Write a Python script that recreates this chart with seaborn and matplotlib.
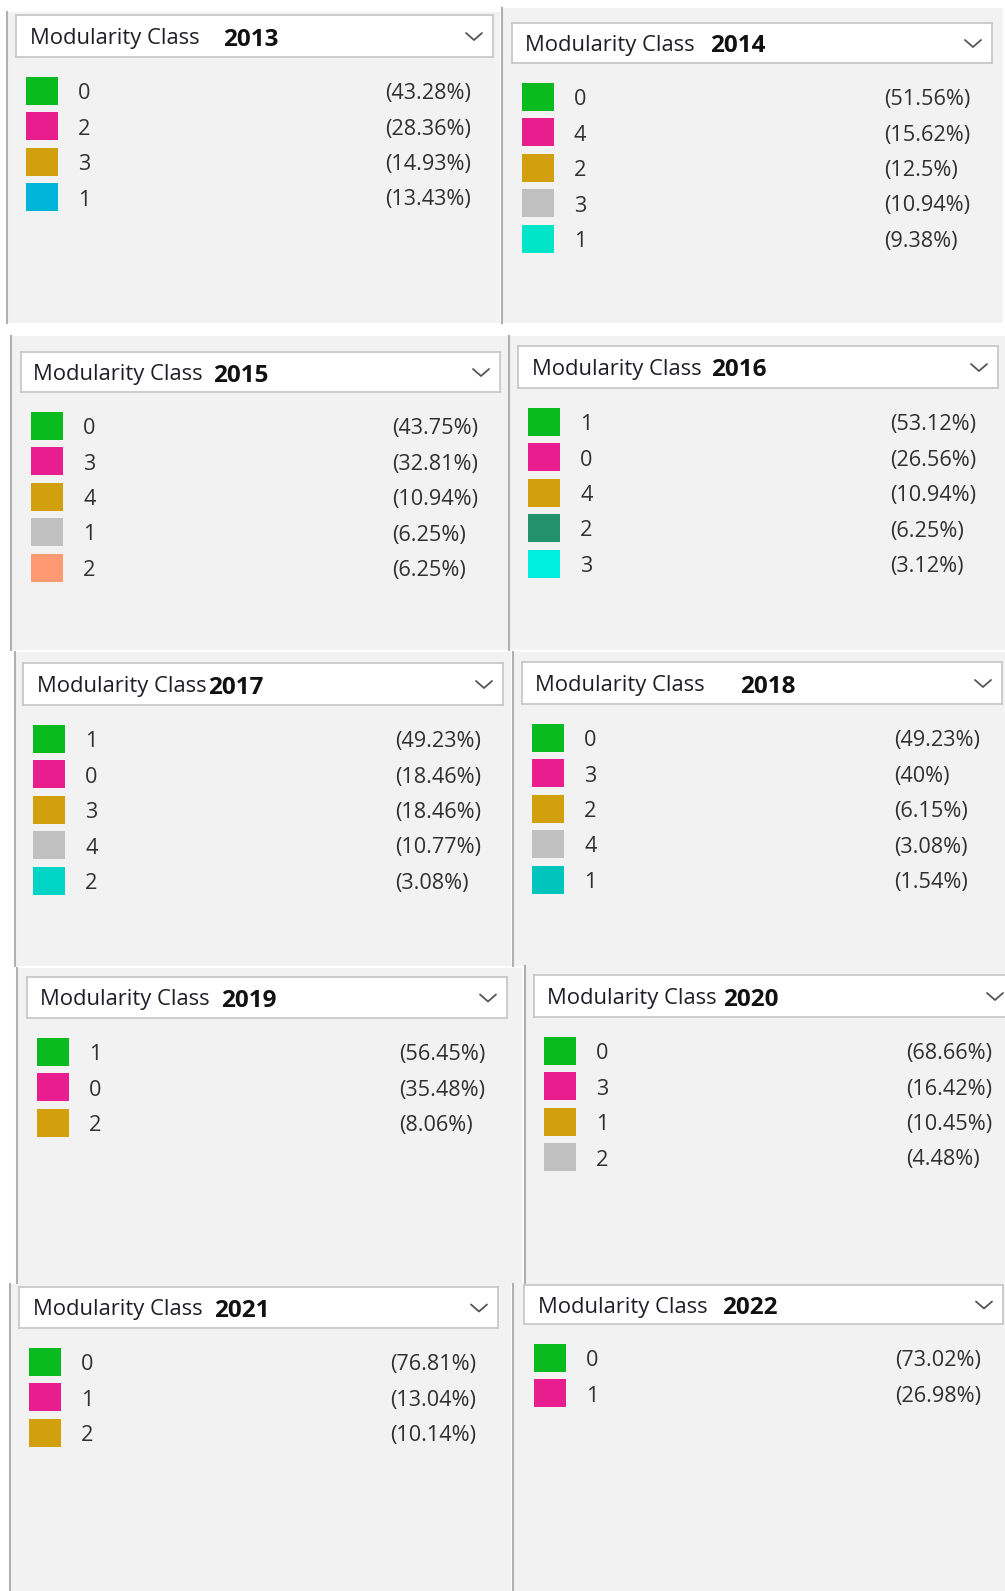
import pandas as pd
import numpy as np
import matplotlib.pyplot as plt
import seaborn as sns
from matplotlib.path import Path

# Modularity class shares per year (Gephi partition panels)

GREEN = "#09bb1f"
PINK = "#e91e8e"
GOLD = "#d2a00c"
GRAY = "#c0c0c0"

years = [2013, 2014, 2015, 2016, 2017, 2018, 2019, 2020, 2021, 2022]

classes_2013 = ["0", "2", "3", "1"]
pct_2013 = [43.28, 28.36, 14.93, 13.43]
colors_2013 = [GREEN, PINK, GOLD, "#00b5d9"]

classes_2014 = ["0", "4", "2", "3", "1"]
pct_2014 = [51.56, 15.62, 12.5, 10.94, 9.38]
colors_2014 = [GREEN, PINK, GOLD, GRAY, "#00e5c8"]

classes_2015 = ["0", "3", "4", "1", "2"]
pct_2015 = [43.75, 32.81, 10.94, 6.25, 6.25]
colors_2015 = [GREEN, PINK, GOLD, GRAY, "#fd9a73"]

classes_2016 = ["1", "0", "4", "2", "3"]
pct_2016 = [53.12, 26.56, 10.94, 6.25, 3.12]
colors_2016 = [GREEN, PINK, GOLD, "#23926c", "#00eee0"]

classes_2017 = ["1", "0", "3", "4", "2"]
pct_2017 = [49.23, 18.46, 18.46, 10.77, 3.08]
colors_2017 = [GREEN, PINK, GOLD, GRAY, "#00d4c4"]

classes_2018 = ["0", "3", "2", "4", "1"]
pct_2018 = [49.23, 40, 6.15, 3.08, 1.54]
colors_2018 = [GREEN, PINK, GOLD, GRAY, "#00c5bd"]

classes_2019 = ["1", "0", "2"]
pct_2019 = [56.45, 35.48, 8.06]
colors_2019 = [GREEN, PINK, GOLD]

classes_2020 = ["0", "3", "1", "2"]
pct_2020 = [68.66, 16.42, 10.45, 4.48]
colors_2020 = [GREEN, PINK, GOLD, GRAY]

classes_2021 = ["0", "1", "2"]
pct_2021 = [76.81, 13.04, 10.14]
colors_2021 = [GREEN, PINK, GOLD]

classes_2022 = ["0", "1"]
pct_2022 = [73.02, 26.98]
colors_2022 = [GREEN, PINK]

all_classes = [classes_2013, classes_2014, classes_2015, classes_2016, classes_2017,
               classes_2018, classes_2019, classes_2020, classes_2021, classes_2022]
all_pcts = [pct_2013, pct_2014, pct_2015, pct_2016, pct_2017,
            pct_2018, pct_2019, pct_2020, pct_2021, pct_2022]
all_colors = [colors_2013, colors_2014, colors_2015, colors_2016, colors_2017,
              colors_2018, colors_2019, colors_2020, colors_2021, colors_2022]

# panel layout in pixels: background box, header box, title x, year x
layout = [
    ((7, 12, 500, 323), (16, 15, 493, 57), 30, 223),
    ((502, 8, 1003, 323), (512, 23, 992, 63), 525, 710),
    ((11, 336, 508, 650), (21, 352, 500, 392), 33, 213),
    ((509, 336, 1005, 650), (518, 346, 998, 388), 532, 711),
    ((15, 652, 511, 966), (23, 663, 503, 705), 37, 208),
    ((513, 652, 1005, 966), (522, 662, 1002, 704), 535, 740),
    ((17, 968, 522, 1284), (27, 977, 507, 1018), 40, 221),
    ((525, 966, 1005, 1284), (534, 975, 1014, 1017), 547, 723),
    ((10, 1284, 511, 1591), (19, 1287, 498, 1328), 33, 214),
    ((513, 1284, 1005, 1591), (524, 1285, 1003, 1324), 538, 722),
]

W, H = 1005, 1591
STEP = 35.4
PANEL = "#f2f2f2"

sns.set_style("white")
plt.rcParams["font.family"] = ["Open Sans", "DejaVu Sans"]

swatch = Path([(-1, -0.875), (1, -0.875), (1, 0.875), (-1, 0.875), (-1, -0.875)])

fig = plt.figure(figsize=(W / 100, H / 100), dpi=100)
fig.patch.set_facecolor("white")


def draw_panel(year, classes, pcts, colors, lay):
    (bx0, by0, bx1, by1), (hx0, hy0, hx1, hy1), tx, yx = lay

    ax = fig.add_axes([bx0 / W, 1 - by1 / H, (bx1 - bx0) / W, (by1 - by0) / H])
    ax.set_facecolor(PANEL)
    row0 = hy1 + 34

    df = pd.DataFrame({
        "rank": np.arange(len(classes)),
        "cls": classes,
        "pct": pcts,
    })
    df["x"] = hx0 + 26

    sns.scatterplot(
        data=df, x="x", y="rank",
        hue="cls", palette=dict(zip(classes, colors)),
        marker=swatch, s=531, linewidth=0,
        legend=False, ax=ax
    )

    ax.set_xlim(bx0, bx1)
    ax.set_ylim((by1 - row0) / STEP, (by0 - row0) / STEP)
    ax.set(xlabel="", ylabel="", xticks=[], yticks=[])

    off = 8.3 / STEP
    for r in df.itertuples():
        ax.text(hx0 + 62, r.rank + off, r.cls, fontsize=15.6,
                color="#303030", va="baseline", ha="left")
        ax.text(hx1 - 108, r.rank + off, f"({r.pct:g}%)", fontsize=15.6,
                color="#303030", va="baseline", ha="left")

    for side in ["top", "right", "bottom"]:
        ax.spines[side].set_visible(False)
    ax.spines["left"].set_color("#b0b0b0")
    ax.spines["left"].set_linewidth(1.5)

    # header combo box
    hax = fig.add_axes([hx0 / W, 1 - hy1 / H, (hx1 - hx0) / W, (hy1 - hy0) / H])
    hax.set_facecolor("white")
    hax.set_xlim(hx0, hx1)
    hax.set_ylim(hy1, hy0)
    hax.set_xticks([])
    hax.set_yticks([])
    for s in hax.spines.values():
        s.set_color("#c8c8c8")
        s.set_linewidth(1.3)

    cy = (hy0 + hy1) / 2
    hax.text(tx, cy + 8, "Modularity Class", fontsize=15.8,
             color="#1e1e28", va="baseline", ha="left")
    hax.text(yx, cy + 9.5, str(year), fontsize=17.5, fontweight="bold",
             color="#111111", va="baseline", ha="left")

    cx = hx1 - 19
    hax.plot([cx - 8, cx, cx + 8], [cy - 3, cy + 4, cy - 3],
             color="#555555", lw=1.3, solid_capstyle="round")


for i in range(len(years)):
    draw_panel(years[i], all_classes[i], all_pcts[i], all_colors[i], layout[i])

plt.savefig("out.png", dpi=100, facecolor="white")
